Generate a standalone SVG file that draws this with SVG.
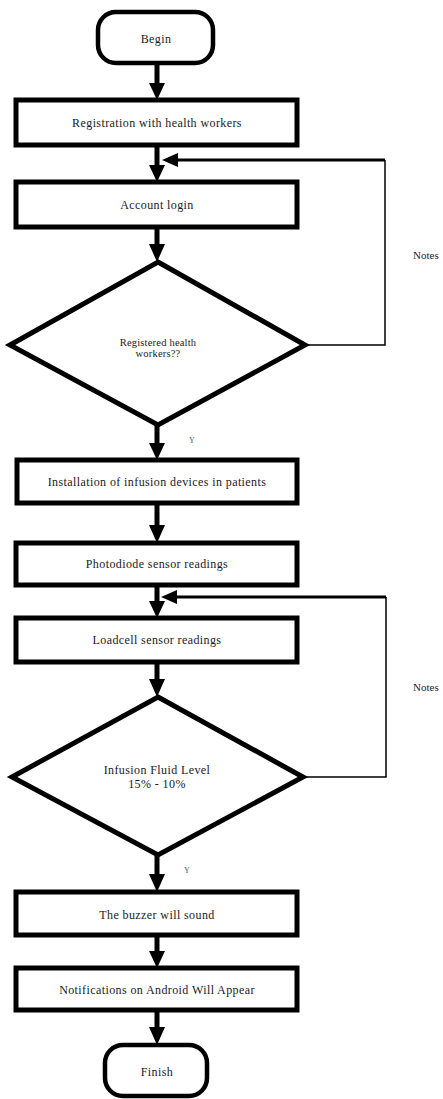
<svg xmlns="http://www.w3.org/2000/svg" width="443" height="1099" viewBox="0 0 443 1099">
<style>
.box{fill:#fff;stroke:#000;stroke-width:5}
.term{fill:#fff;stroke:#000;stroke-width:4.5}
.lbl{font-family:"Liberation Serif",serif;font-size:12px;letter-spacing:0.4px;fill:#1a1a1a;text-anchor:middle;dominant-baseline:central}
.small{font-size:10.5px;letter-spacing:0.2px}
.note{font-family:"Liberation Serif",serif;font-size:11px;fill:#222;dominant-baseline:central}
.y{font-family:"Liberation Serif",serif;font-size:8px;fill:#555;text-anchor:middle;dominant-baseline:central}
.ln{stroke:#000;stroke-width:5;fill:none}
.thin{stroke:#000;stroke-width:1.5;fill:none}
.mid{stroke:#000;stroke-width:3;fill:none}
.hd{fill:#000}
</style>
<rect width="443" height="1099" fill="#fff"/>
<g id="connectors">
<line class="ln" x1="157" y1="63" x2="157" y2="86"/><polygon class="hd" points="149,83 165,83 157,100"/>
<line class="ln" x1="157" y1="145" x2="157" y2="168"/><polygon class="hd" points="149,165 165,165 157,182"/>
<line class="ln" x1="157" y1="227" x2="157" y2="246"/><polygon class="hd" points="149,244 165,244 157,262"/>
<line class="ln" x1="157" y1="425" x2="157" y2="446"/><polygon class="hd" points="149,443 165,443 157,460"/>
<line class="ln" x1="157" y1="503" x2="157" y2="528"/><polygon class="hd" points="149,525 165,525 157,543"/>
<line class="ln" x1="157" y1="585" x2="157" y2="603"/><polygon class="hd" points="149,601 165,601 157,618"/>
<line class="ln" x1="157" y1="662" x2="157" y2="682"/><polygon class="hd" points="149,679 165,679 157,697"/>
<line class="ln" x1="157" y1="855" x2="157" y2="877"/><polygon class="hd" points="149,874 165,874 157,892"/>
<line class="ln" x1="157" y1="935" x2="157" y2="953"/><polygon class="hd" points="149,951 165,951 157,968"/>
<line class="ln" x1="157" y1="1010" x2="157" y2="1030"/><polygon class="hd" points="149,1027 165,1027 157,1045"/>
<polyline class="thin" points="305,345 385,345 385,160"/>
<line class="mid" x1="385" y1="160" x2="175" y2="160"/>
<polygon class="hd" points="162,160 178,153 178,167"/>
<polyline class="thin" points="303,777 386,777 386,597"/>
<line class="mid" x1="386" y1="597" x2="175" y2="597"/>
<polygon class="hd" points="161,597 177,590 177,604"/>
</g>
<g id="begin"><rect class="term" x="98" y="12" width="115" height="51" rx="18"/><text class="lbl" x="156" y="39">Begin</text></g>
<g id="registration"><rect class="box" x="16" y="100" width="281" height="45"/><text class="lbl" x="157" y="123">Registration with health workers</text></g>
<g id="login"><rect class="box" x="16" y="182" width="281" height="45"/><text class="lbl" x="157" y="205">Account login</text></g>
<g id="decision1"><polygon class="box" points="158,262 305,345 158,425 10,345"/><text class="lbl small" x="158" y="342">Registered health</text><text class="lbl small" x="158" y="353">workers??</text></g>
<g id="notes1"><text class="note" x="413" y="255">Notes</text></g>
<g id="y1"><text class="y" x="192" y="440">Y</text></g>
<g id="installation"><rect class="box" x="17" y="460" width="280" height="43"/><text class="lbl" x="157" y="482">Installation of infusion devices in patients</text></g>
<g id="photodiode"><rect class="box" x="16" y="543" width="281" height="42"/><text class="lbl" x="157" y="564">Photodiode sensor readings</text></g>
<g id="loadcell"><rect class="box" x="16" y="618" width="281" height="44"/><text class="lbl" x="157" y="640">Loadcell sensor readings</text></g>
<g id="decision2"><polygon class="box" points="158,697 303,777 158,855 12,777"/><text class="lbl" x="157" y="770">Infusion Fluid Level</text><text class="lbl" x="157" y="784">15% - 10%</text></g>
<g id="notes2"><text class="note" x="413" y="687">Notes</text></g>
<g id="y2"><text class="y" x="187" y="870">Y</text></g>
<g id="buzzer"><rect class="box" x="16" y="892" width="281" height="43"/><text class="lbl" x="157" y="915">The buzzer will sound</text></g>
<g id="notifications"><rect class="box" x="16" y="968" width="281" height="42"/><text class="lbl" x="157" y="990">Notifications on Android Will Appear</text></g>
<g id="finish"><rect class="term" x="105" y="1045" width="102" height="51" rx="18"/><text class="lbl" x="157" y="1072">Finish</text></g>
</svg>
